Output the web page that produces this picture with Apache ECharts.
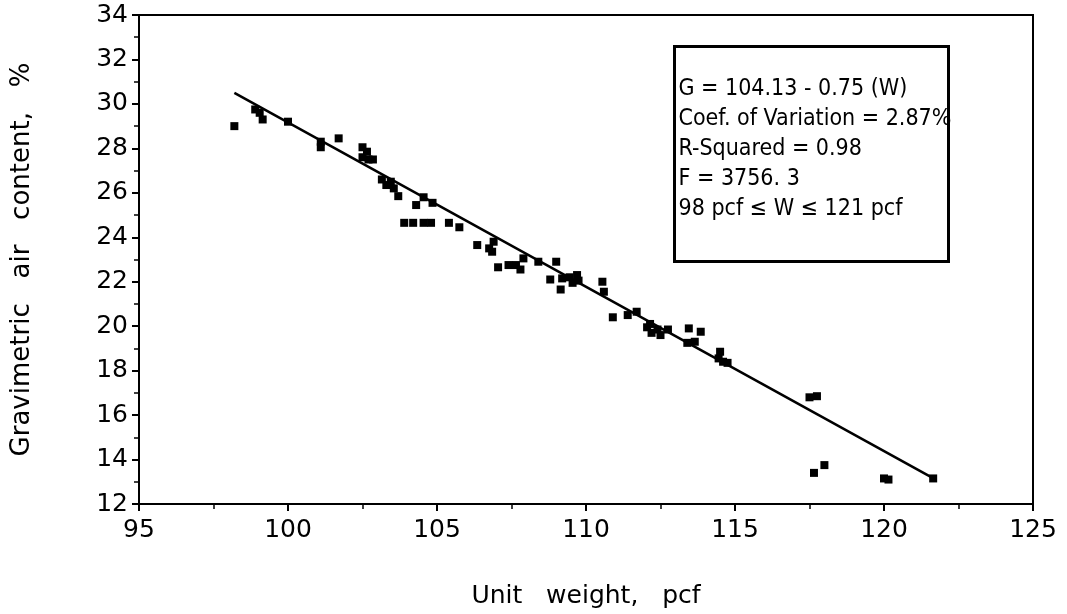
<!DOCTYPE html>
<html>
<head>
<meta charset="utf-8">
<script src="https://cdn.jsdelivr.net/npm/echarts@6/dist/echarts.min.js"></script>
<style>html,body{margin:0;padding:0;background:#fff;}#c{width:1067px;height:614px;}</style>
</head>
<body>
<div id="c"></div>
<script>
// Measured points: unit weight (pcf) and gravimetric air content (%)
const unitWeight = [98.2, 98.9, 99.05, 99.15, 100.0, 101.1, 101.1, 101.7, 102.5, 102.65, 102.5, 102.7, 102.85,
  103.15, 103.45, 103.3, 103.55, 103.7, 104.3, 104.55, 104.85, 103.9, 104.2, 104.55, 104.8, 105.4, 105.75,
  106.35, 106.75, 106.9, 106.85, 107.05, 107.4, 107.65, 107.8, 107.9, 108.4, 109.0, 108.8, 109.2, 109.45,
  109.7, 109.55, 109.15, 109.75, 110.55, 110.6, 110.9, 111.4, 111.7, 112.05, 112.2, 112.4, 112.5, 112.75,
  112.15, 113.45, 113.85, 113.4, 113.65, 114.5, 114.45, 114.75, 114.6, 117.5, 117.75, 117.65, 118.0, 120.0,
  120.15, 121.65];
const airContent = [29.0, 29.75, 29.6, 29.3, 29.2, 28.3, 28.05, 28.45, 28.05, 27.85, 27.6, 27.5, 27.5,
  26.6, 26.5, 26.35, 26.2, 25.85, 25.45, 25.8, 25.55, 24.65, 24.65, 24.65, 24.65, 24.65, 24.45,
  23.65, 23.5, 23.8, 23.35, 22.65, 22.75, 22.75, 22.55, 23.05, 22.9, 22.9, 22.1, 22.15, 22.2,
  22.3, 21.95, 21.65, 22.05, 22.0, 21.55, 20.4, 20.5, 20.65, 19.95, 19.7, 19.85, 19.6, 19.85,
  20.1, 19.9, 19.75, 19.25, 19.3, 18.85, 18.55, 18.35, 18.4, 16.8, 16.85, 13.4, 13.75, 13.15,
  13.1, 13.15];
// Fitted regression line endpoints as drawn
const fitW = [98.2, 121.6];
const fitG = [30.5, 13.2];
const xTicks = [95, 100, 105, 110, 115, 120, 125];
const yTicks = [12, 14, 16, 18, 20, 22, 24, 26, 28, 30, 32, 34];
const boxLines = ['G = 104.13 - 0.75 (W)', 'Coef. of Variation = 2.87%', 'R-Squared = 0.98', 'F = 3756. 3', '98 pcf \u2264 W \u2264 121 pcf'];
const xTitle = 'Unit   weight,   pcf';
const yTitle = 'Gravimetric   air   content,   %';

const chart = echarts.init(document.getElementById('c'), null, {renderer: 'canvas'});
const fam = 'DejaVu Sans, Liberation Sans, Arial, sans-serif';
const labelFont = {color: '#000', fontSize: 25, fontFamily: fam};
chart.setOption({
  backgroundColor: '#fff',
  animation: false,
  grid: {left: 139, right: 34, top: 15, bottom: 110, show: true, borderColor: '#000', borderWidth: 2},
  xAxis: {
    type: 'value', min: xTicks[0], max: xTicks[xTicks.length - 1], interval: 5,
    name: xTitle, nameLocation: 'middle', nameGap: 80,
    nameTextStyle: {color: '#000', fontSize: 25, fontFamily: fam},
    axisLine: {lineStyle: {color: '#000', width: 2}},
    axisTick: {show: true, inside: false, length: 7, lineStyle: {color: '#000', width: 2}},
    minorTick: {show: true, splitNumber: 2, length: 5, lineStyle: {color: '#000', width: 1.5}},
    splitLine: {show: false},
    axisLabel: Object.assign({margin: 14}, labelFont)
  },
  yAxis: {
    type: 'value', min: yTicks[0], max: yTicks[yTicks.length - 1], interval: 2,
    name: yTitle, nameLocation: 'middle', nameGap: 104, nameRotate: 90,
    nameTextStyle: {color: '#000', fontSize: 26, fontFamily: fam},
    axisLine: {lineStyle: {color: '#000', width: 2}},
    axisTick: {show: true, inside: false, length: 7, lineStyle: {color: '#000', width: 2}},
    minorTick: {show: true, splitNumber: 2, length: 5, lineStyle: {color: '#000', width: 1.5}},
    splitLine: {show: false},
    axisLabel: Object.assign({margin: 11}, labelFont)
  },
  series: [
    {
      type: 'scatter', symbol: 'rect', symbolSize: 8,
      itemStyle: {color: '#000', opacity: 1},
      data: unitWeight.map((w, i) => [w, airContent[i]])
    },
    {
      type: 'line', showSymbol: false, symbol: 'none',
      lineStyle: {color: '#000', width: 2.5},
      data: fitW.map((w, i) => [w, fitG[i]])
    }
  ],
  graphic: [{
    type: 'group', left: 673, top: 45,
    children: [
      {type: 'rect', shape: {x: 0, y: 0, width: 274, height: 215}, style: {fill: '#fff', stroke: '#000', lineWidth: 3}},
      {type: 'text', left: 4, top: 28, style: {
        text: boxLines.join('\n'), fill: '#000', fontSize: 23, lineHeight: 30,
        fontFamily: 'Liberation Sans Narrow, DejaVu Sans Condensed, Arial Narrow, sans-serif'
      }}
    ]
  }]
});
</script>
</body>
</html>
